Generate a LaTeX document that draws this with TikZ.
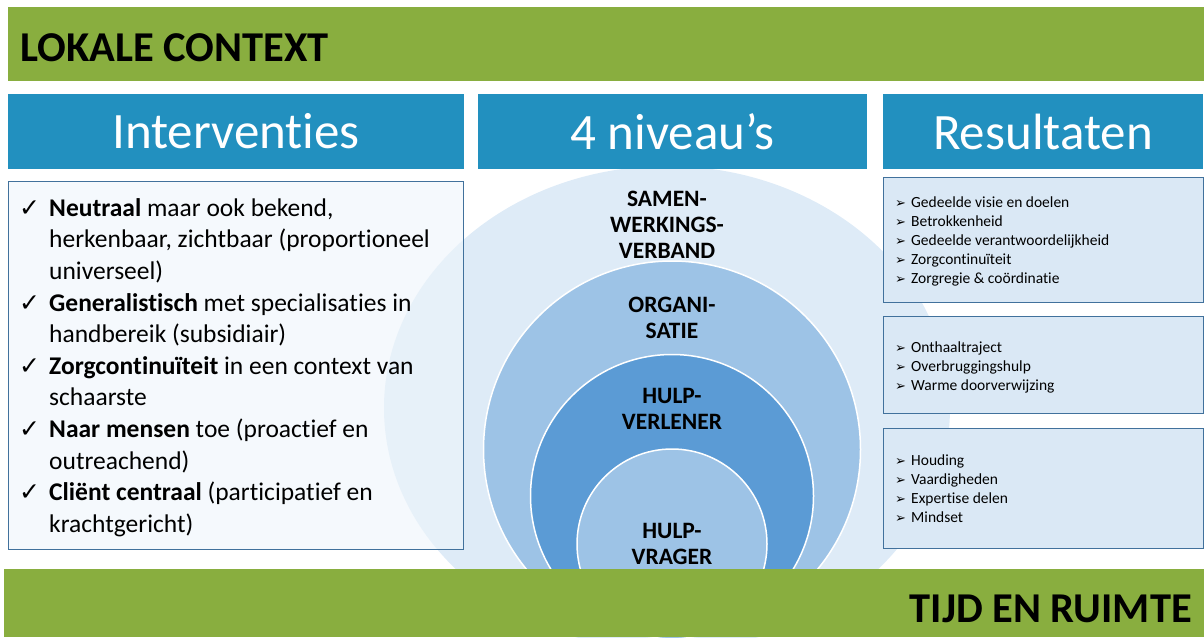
\documentclass[tikz,border=0pt]{standalone}
\usepackage{fontspec}
\setmainfont{Carlito}[Ligatures={NoCommon,NoContextual}]
\newfontfamily\symfont{DejaVu Sans}
\definecolor{grass}{RGB}{137,174,63}
\definecolor{headblue}{RGB}{34,144,191}
\definecolor{ringa}{RGB}{222,235,247}
\definecolor{ringb}{RGB}{157,195,230}
\definecolor{ringc}{RGB}{91,155,213}
\definecolor{edgeblue}{RGB}{65,113,156}
\definecolor{boxfill}{RGB}{218,232,245}
\definecolor{paleblue}{RGB}{238,245,251}
\newcommand{\chk}{{\symfont\fontsize{25}{25}\selectfont ✓}}
\newcommand{\arw}{\makebox[16pt][l]{\symfont\fontsize{13}{13}\selectfont ➢}}
\tikzset{
  greenbar/.style={fill=grass, draw=none},
  bartext/.style={font=\bfseries\fontsize{42.5}{50}\selectfont, inner sep=0},
  headbox/.style={fill=headblue, draw=none, text=white, font=\fontsize{51}{60}\selectfont, minimum height=75, inner sep=0},
  itembox/.style={draw=edgeblue, line width=1, fill=paleblue, fill opacity=0.6, anchor=north west, inner sep=0},
  resbox/.style={draw=edgeblue, line width=1, fill=boxfill, anchor=north west, inner sep=0},
  ring/.style={draw=white, line width=1.5},
  lvl/.style={font=\bfseries\fontsize{23.5}{26}\selectfont, align=center, anchor=north, inner sep=0},
  itm/.style={font=\fontsize{25.5}{31.5}\selectfont, align=left, anchor=north west, inner sep=0},
  tick/.style={anchor=base west, inner sep=0},
  res/.style={font=\fontsize{15.5}{19}\selectfont, align=left, anchor=north west, inner sep=0}
}
\begin{document}
\begin{tikzpicture}[x=1pt,y=-1pt]
\useasboundingbox (0,0) rectangle (1204,637);

\fill[ringa] (667,408) ellipse [x radius=283, y radius=242];
\filldraw[ring, fill=ringb] (672,449.5) circle [radius=188.5];
\filldraw[ring, fill=ringc] (672,496) circle [radius=141.5];
\filldraw[ring, fill=ringb] (672,544) circle [radius=95];

\fill[greenbar] (8,7) rectangle (1204,81);
\node [bartext, anchor=base west] (ctx) at (20,61) {LOKALE CONTEXT};

\node [headbox, minimum width=456] (h0) at (236,131.5) {Interventies};
\node [headbox, minimum width=389] (h1) at (672.5,131.5) {4 niveau’s};
\node [headbox, minimum width=320] (h2) at (1043,131.5) {Resultaten};

\node [itembox, minimum width=455, minimum height=368] (lbox) at (8,181) {};
\node [tick] (k0) at (19,216) {\chk};
\node [tick] (k1) at (19,311) {\chk};
\node [tick] (k2) at (19,374) {\chk};
\node [tick] (k3) at (19,437) {\chk};
\node [tick] (k4) at (19,500) {\chk};
\node [itm] (i0) at (49,198) {\textbf{Neutraal} maar ook bekend,\\herkenbaar, zichtbaar (proportioneel\\universeel)};
\node [itm] (i1) at (49,293) {\textbf{Generalistisch} met specialisaties in\\handbereik (subsidiair)};
\node [itm] (i2) at (49,356) {\textbf{Zorgcontinuïteit} in een context van\\schaarste};
\node [itm] (i3) at (49,419) {\textbf{Naar mensen} toe (proactief en\\outreachend)};
\node [itm] (i4) at (49,482) {\textbf{Cliënt centraal} (participatief en\\krachtgericht)};

\node [lvl] (l0) at (667,191) {SAMEN-\\WERKINGS-\\VERBAND};
\node [lvl] (l1) at (672,297) {ORGANI-\\SATIE};
\node [lvl] (l2) at (672,388) {HULP-\\VERLENER};
\node [lvl] (l3) at (672,523) {HULP-\\VRAGER};

\node [resbox, minimum width=320, minimum height=125] (r0) at (883,177) {};
\node [resbox, minimum width=320, minimum height=97] (r1) at (883,316) {};
\node [resbox, minimum width=320, minimum height=120] (r2) at (883,428) {};
\node [res] (t0) at (895,196.5) {\arw Gedeelde visie en doelen\\\arw Betrokkenheid\\\arw Gedeelde verantwoordelijkheid\\\arw Zorgcontinuïteit\\\arw Zorgregie \& coördinatie};
\node [res] (t1) at (895,341.5) {\arw Onthaaltraject\\\arw Overbruggingshulp\\\arw Warme doorverwijzing};
\node [res] (t2) at (895,454.5) {\arw Houding\\\arw Vaardigheden\\\arw Expertise delen\\\arw Mindset};

\fill[greenbar] (4,569) rectangle (1204,637);
\node [bartext, anchor=base east] (tr) at (1192,622) {TIJD EN RUIMTE};
\end{tikzpicture}
\end{document}
